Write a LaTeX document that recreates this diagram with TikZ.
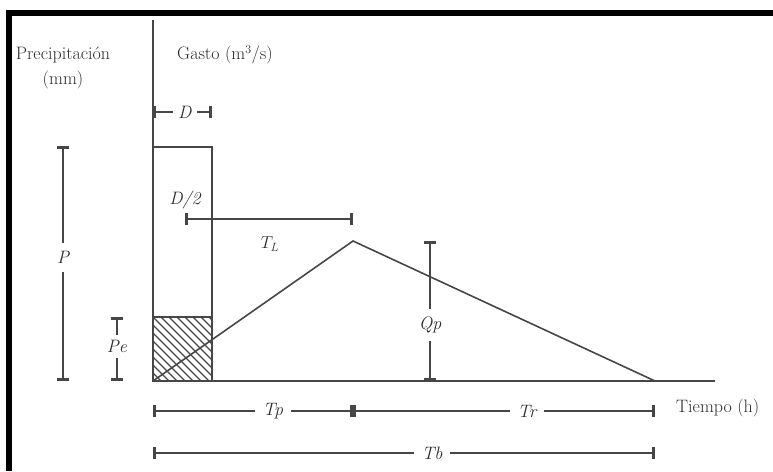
\documentclass[tikz,border=0pt]{standalone}
\usepackage{tikz}
\usetikzlibrary{arrows.meta,positioning}
\definecolor{inkgray}{RGB}{70,70,70}
\definecolor{textgray}{RGB}{45,45,45}

\tikzset{
  axisline/.style={line width=1.6pt, inkgray},
  dimline/.style={{Bar[width=12pt,line width=2.8pt]}-{Bar[width=12pt,line width=2.8pt]}, line width=1.6pt, inkgray},
  dimlabel/.style={fill=white, inner sep=8pt, text=textgray, font=\fontsize{18}{21}\selectfont\itshape},
  axislabel/.style={inner sep=0pt, text=textgray, font=\fontsize{18}{21}\selectfont},
}

\begin{document}
\begin{tikzpicture}[x=1pt, y=-1pt]
  \useasboundingbox (0,0) rectangle (773,471);
  % frame (left and top)
  \fill[black] (6,10) rectangle (773,16);
  \fill[black] (6,10) rectangle (12,471);

  % axes
  \coordinate (O) at (153,381);
  \coordinate (ytop) at (153,20);
  \coordinate (xend) at (715,381);
  \draw[axisline] (ytop) -- (O) -- (xend);
  \node[axislabel] (prec) at (63,55) {Precipitación};
  \node[axislabel] (mm) at (63,80) {(mm)};
  \node[axislabel] (gasto) at (225,55) {Gasto (m$^3$/s)};
  \node[axislabel, anchor=west] (tiempo) at (676,408) {Tiempo (h)};

  % --- rainfall block ---
  \coordinate (rtop) at (212,147);
  \coordinate (pe) at (212,317);
  \draw[axisline] (O |- rtop) -- (rtop) -- (rtop |- O);
  \draw[axisline] (O |- pe) -- (pe);
  \begin{scope}
    \clip (O) rectangle (pe);
    \foreach \hx in {89,97,...,213}
      \draw[inkgray, line width=1.1pt] (\hx,317) -- ({\hx+64},381);
  \end{scope}

  % --- hydrograph ---
  \coordinate (peak) at (353,241);
  \coordinate (tb) at (655,381);
  \draw[axisline] (O) -- (peak) -- (tb);

  % --- dimensions ---
  \coordinate (d1) at (153,112);
  \coordinate (d2) at (212,112);
  \draw[dimline] (d1) -- node[dimlabel, pos=0.54, inner sep=5pt] (dlab) {D} (d2);

  \coordinate (tl1) at (185,219);
  \coordinate (tl2) at (353,219);
  \draw[dimline] (tl1) -- (tl2);
  \node[axislabel, font=\fontsize{18}{21}\selectfont\itshape] (dhalf) at (185,200) {D/2};
  \node[axislabel] (tlag) at (270,244) {$T_L$};

  \coordinate (p1) at (63,146);
  \coordinate (p2) at (63,381);
  \draw[dimline] (p1) -- node[dimlabel, pos=0.475] (plab) {P} (p2);

  \coordinate (pe1) at (117,317);
  \coordinate (pe2) at (117,381);
  \draw[dimline] (pe1) -- node[dimlabel, pos=0.46, inner sep=5pt] (pelab) {Pe} (pe2);

  \coordinate (qp1) at (430,241);
  \coordinate (qp2) at (430,381);
  \draw[dimline] (qp1) -- node[dimlabel, pos=0.6] (qplab) {Qp} (qp2);

  \coordinate (t1) at (153,411);
  \coordinate (t2) at (353,411);
  \coordinate (t3) at (655,411);
  \draw[dimline] (t1) -- node[dimlabel, pos=0.6] (tplab) {Tp} (t2);
  \draw[dimline] (t2) -- node[dimlabel, pos=0.576] (trlab) {Tr} (t3);

  \coordinate (b1) at (153,453);
  \coordinate (b2) at (655,453);
  \draw[dimline] (b1) -- node[dimlabel, pos=0.556] (tblab) {Tb} (b2);
\end{tikzpicture}
\end{document}
